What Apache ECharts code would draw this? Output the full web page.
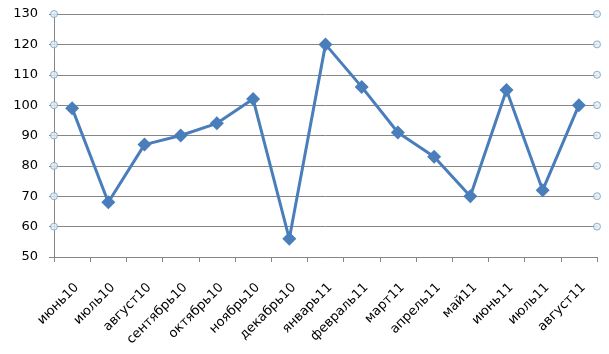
<!DOCTYPE html>
<html>
<head>
<meta charset="utf-8">
<script src="https://cdn.jsdelivr.net/npm/echarts@6/dist/echarts.min.js"></script>
<style>
  html, body { margin: 0; padding: 0; background: #fff; }
  #chart { width: 609px; height: 354px; }
</style>
</head>
<body>
<div id="chart"></div>
<script>
// месяцы и значения
const months = ['июнь10', 'июль10', 'август10', 'сентябрь10', 'октябрь10', 'ноябрь10', 'декабрь10',
  'январь11', 'февраль11', 'март11', 'апрель11', 'май11', 'июнь11', 'июль11', 'август11']
const values = [99, 68, 87, 90, 94, 102, 56, 120, 106, 91, 83, 70, 105, 72, 100]
// кружки на концах линий сетки
const gridTicks = [60, 70, 80, 90, 100, 110, 120, 130]
const tickEnds = [0, 1]

const endDots = []
gridTicks.forEach(v => {
  tickEnds.forEach(e => endDots.push([e, v]))
})

const chart = echarts.init(document.getElementById('chart'))
const axisColor = '#868686'
const font = 'DejaVu Sans'

chart.setOption({
  animation: false,
  grid: { left: 54, right: 12, top: 14, bottom: 97 },
  xAxis: [{
    type: 'category',
    data: months,
    boundaryGap: true,
    axisLine: { lineStyle: { color: axisColor, width: 1 } },
    axisTick: { show: true, length: 5, lineStyle: { color: axisColor } },
    axisLabel: {
      interval: 0,
      rotate: 45,
      margin: 24,
      verticalAlign: 'top',
      color: '#000',
      fontFamily: font,
      fontSize: 13
    }
  }, {
    type: 'value',
    min: 0,
    max: 1,
    show: false
  }],
  yAxis: {
    type: 'value',
    min: 50,
    max: 130,
    interval: 10,
    axisLine: { show: true, lineStyle: { color: axisColor, width: 1 } },
    axisTick: { show: true, length: 5, lineStyle: { color: axisColor } },
    axisLabel: { color: '#000', fontFamily: font, fontSize: 13, margin: 16 },
    splitLine: { lineStyle: { color: axisColor, width: 1 } }
  },
  series: [{
    type: 'scatter',
    xAxisIndex: 1,
    data: endDots,
    symbol: 'circle',
    symbolSize: 7,
    silent: true,
    itemStyle: { color: '#deedf7', borderColor: '#7d9fb8', borderWidth: 1 },
    z: 3
  }, {
    type: 'line',
    data: values,
    symbol: 'diamond',
    symbolSize: 14,
    showSymbol: true,
    lineStyle: { color: '#4a7ebb', width: 3 },
    itemStyle: { color: '#4a7ebb', borderWidth: 0 },
    z: 4
  }]
})
</script>
</body>
</html>
